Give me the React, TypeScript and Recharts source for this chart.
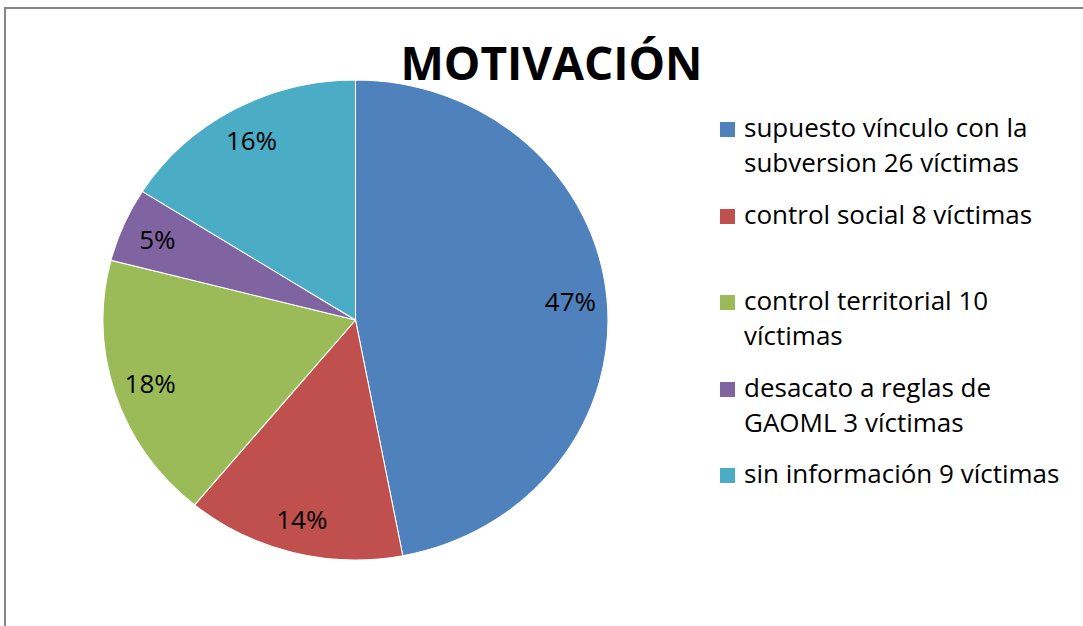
import React from "react";
import { PieChart, Pie, Cell, Legend, Sector } from "recharts";

const categories = [
  "supuesto vínculo con la subversion 26 víctimas",
  "control social 8 víctimas",
  "control territorial 10 víctimas",
  "desacato a reglas de GAOML 3 víctimas",
  "sin información 9 víctimas",
];
const percentages = [47, 14, 18, 5, 16];
const colors = ["#4F81BD", "#C0504D", "#9BBB59", "#8064A2", "#4BACC6"];
const title = "MOTIVACIÓN";

const data = categories.map((name, i) => ({ name, value: percentages[i] }));

const STRETCH = 1.052;
const RAD = Math.PI / 180;
const FONT = "'Open Sans', 'Noto Sans', sans-serif";

const EllipseSector = (props: any) => {
  const { cx, cy } = props;
  return (
    <g transform={`translate(${cx} ${cy}) scale(${STRETCH} 1) translate(${-cx} ${-cy})`}>
      <Sector {...props} />
    </g>
  );
};

const renderLabel = (props: any) => {
  const { cx, cy, midAngle, outerRadius, value } = props;
  const r = outerRadius * 0.855;
  const x = cx + r * Math.cos(-midAngle * RAD) * STRETCH;
  const y = cy + r * Math.sin(-midAngle * RAD);
  return (
    <text
      x={x}
      y={y}
      textAnchor="middle"
      dominantBaseline="central"
      fill="#000"
      style={{ fontFamily: FONT, fontSize: 26 }}
    >
      {`${value}%`}
    </text>
  );
};

const renderLegend = (props: any) => {
  const payload = [...(props.payload || [])].sort(
    (a: any, b: any) => categories.indexOf(a.value) - categories.indexOf(b.value)
  );
  return (
    <div style={{ fontFamily: FONT, fontSize: 26, lineHeight: "35px", color: "#000" }}>
      {payload.map((entry: any, i: number) => (
        <div key={i} style={{ position: "relative", height: 86.5 }}>
          <div
            style={{
              position: "absolute",
              left: 2,
              top: 12,
              width: 15,
              height: 15,
              background: entry.color,
            }}
          />
          <div style={{ position: "absolute", left: 26, top: 0, width: 338 }}>{entry.value}</div>
        </div>
      ))}
    </div>
  );
};

export default function App() {
  return (
    <div
      style={{
        position: "fixed",
        left: 0,
        top: 0,
        width: 1083,
        height: 626,
        overflow: "hidden",
        background: "#fff",
      }}
    >
      <div
        style={{
          position: "absolute",
          left: 4,
          top: 7,
          width: 1200,
          height: 800,
          borderLeft: "2px solid #868686",
          borderTop: "2px solid #868686",
        }}
      />
      <div style={{ position: "absolute", left: 0, top: 0 }}>
        <PieChart width={1083} height={626} margin={{ top: 0, right: 0, bottom: 0, left: 0 }}>
          <Pie
            data={data}
            dataKey="value"
            nameKey="name"
            cx={355.5}
            cy={320}
            outerRadius={240}
            startAngle={90}
            endAngle={-270}
            stroke="#ffffff"
            strokeWidth={1}
            isAnimationActive={false}
            label={renderLabel}
            labelLine={false}
            shape={EllipseSector}
            inactiveShape={EllipseSector}
          >
            {data.map((d, i) => (
              <Cell key={d.name} fill={colors[i]} />
            ))}
          </Pie>
          <Legend
            layout="vertical"
            align="right"
            verticalAlign="top"
            content={renderLegend}
            wrapperStyle={{ position: "absolute", left: 718, top: 110, width: 365, height: 450 }}
          />
        </PieChart>
      </div>
      <div
        style={{
          position: "absolute",
          left: 0,
          top: 39,
          width: 1103,
          textAlign: "center",
          fontFamily: FONT,
          fontWeight: 700,
          fontSize: 46,
          lineHeight: "46px",
          color: "#000",
          whiteSpace: "nowrap",
        }}
      >
        {title}
      </div>
    </div>
  );
}
